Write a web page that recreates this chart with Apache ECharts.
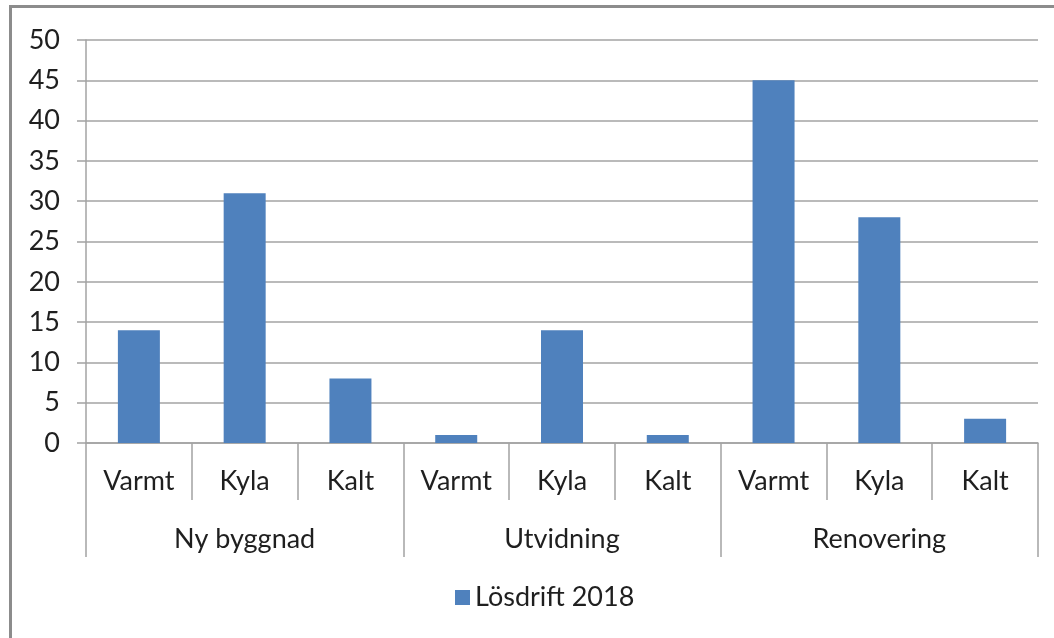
<!DOCTYPE html>
<html>
<head>
<meta charset="utf-8">
<script src="https://cdn.jsdelivr.net/npm/echarts@6/dist/echarts.min.js"></script>
<style>
  html, body { margin: 0; padding: 0; background: #fff; }
  #frame {
    position: absolute; left: 9px; top: 5px; right: 0; bottom: 0;
    border-left: 3px solid #8c8c8c; border-top: 3px solid #8c8c8c;
  }
  #chart { position: absolute; left: 0; top: 0; width: 1054px; height: 638px; }
</style>
</head>
<body>
<div id="frame"></div>
<div id="chart"></div>
<script>
const subCategories = ['Varmt', 'Kyla', 'Kalt', 'Varmt', 'Kyla', 'Kalt', 'Varmt', 'Kyla', 'Kalt']
const groups = ['Ny byggnad', 'Utvidning', 'Renovering']
const seriesName = 'Lösdrift 2018'
const values = [14, 31, 8, 1, 14, 1, 45, 28, 3]

const font = 'Lato, "Noto Sans", sans-serif'
const textColor = '#1f1f1f'
const lineColor = '#a3a3a3'

const chart = echarts.init(document.getElementById('chart'))
chart.setOption({
  animation: false,
  grid: { left: 86, right: 16, top: 40, bottom: 195, containLabel: false },
  legend: {
    bottom: 22,
    left: 450,
    icon: 'rect',
    itemWidth: 15,
    itemHeight: 15,
    itemGap: 6,
    textStyle: { fontFamily: font, fontSize: 27, color: textColor },
    data: [seriesName]
  },
  xAxis: [
    {
      type: 'category',
      data: subCategories,
      position: 'bottom',
      axisLine: { show: true, lineStyle: { color: lineColor, width: 1.5 } },
      axisTick: { show: true, length: 57, interval: 0, lineStyle: { color: lineColor, width: 1.5 } },
      axisLabel: { interval: 0, margin: 25, fontFamily: font, fontSize: 27, color: textColor }
    },
    {
      type: 'category',
      data: groups,
      position: 'bottom',
      axisLine: { show: false },
      axisTick: { show: true, length: 114, interval: 0, lineStyle: { color: lineColor, width: 1.5 } },
      axisLabel: { interval: 0, margin: 83, fontFamily: font, fontSize: 27, color: textColor }
    }
  ],
  yAxis: {
    type: 'value',
    min: 0,
    max: 50,
    interval: 5,
    axisLine: { show: true, lineStyle: { color: lineColor, width: 1.5 } },
    axisTick: { show: true, length: 9, lineStyle: { color: lineColor, width: 1.5 } },
    axisLabel: { margin: 26, fontFamily: font, fontSize: 27, color: textColor },
    splitLine: { show: true, lineStyle: { color: lineColor, width: 1.5 } }
  },
  series: [{
    name: seriesName,
    type: 'bar',
    xAxisIndex: 0,
    data: values,
    barWidth: 42,
    itemStyle: { color: '#4f81bd' }
  }]
})
</script>
</body>
</html>
